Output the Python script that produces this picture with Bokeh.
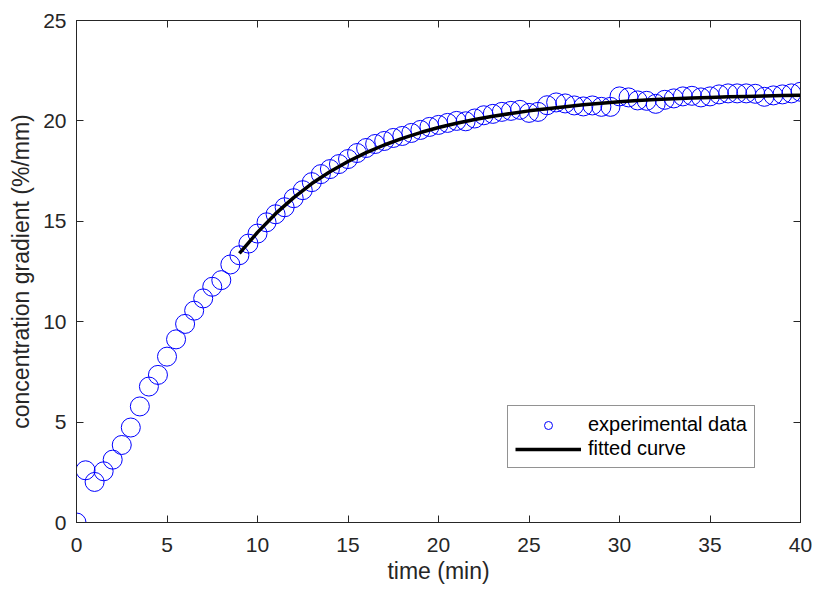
from bokeh.plotting import figure
from bokeh.models import LinearAxis, Range1d, FixedTicker, Legend, LegendItem, CustomJSTickFormatter
from bokeh.embed import file_html
from bokeh.resources import INLINE

# experimental data (time in min, concentration gradient in %/mm)
t_data = [0, 0.5, 1, 1.5, 2, 2.5, 3, 3.5, 4, 4.5, 5, 5.5, 6, 6.5, 7, 7.5, 8, 8.5, 9, 9.5,
          10, 10.5, 11, 11.5, 12, 12.5, 13, 13.5, 14, 14.5, 15, 15.5, 16, 16.5, 17, 17.5,
          18, 18.5, 19, 19.5, 20, 20.5, 21, 21.5, 22, 22.5, 23, 23.5, 24, 24.5, 25, 25.5,
          26, 26.5, 27, 27.5, 28, 28.5, 29, 29.5, 30, 30.5, 31, 31.5, 32, 32.5, 33, 33.5,
          34, 34.5, 35, 35.5, 36, 36.5, 37, 37.5, 38, 38.5, 39, 39.5, 40]
y_data = [0.0, 2.6, 2.02, 2.55, 3.13, 3.86, 4.73, 5.78, 6.77, 7.35, 8.26, 9.12, 9.89, 10.55,
          11.16, 11.74, 12.07, 12.85, 13.31, 13.89, 14.39, 14.95, 15.35, 15.7, 16.15, 16.55,
          16.95, 17.35, 17.6, 17.85, 18.1, 18.4, 18.65, 18.85, 19.0, 19.15, 19.25, 19.4,
          19.55, 19.7, 19.8, 19.9, 20.0, 19.98, 20.12, 20.28, 20.35, 20.45, 20.5, 20.55,
          20.4, 20.45, 20.78, 20.92, 20.87, 20.77, 20.72, 20.77, 20.7, 20.7, 21.22, 21.17,
          21.02, 21.0, 20.85, 21.05, 21.12, 21.22, 21.25, 21.17, 21.22, 21.32, 21.37, 21.37,
          21.37, 21.35, 21.2, 21.27, 21.32, 21.37, 21.45]

# fitted curve
t_fit = [9, 10, 11, 12, 13, 14, 15, 16, 17, 18, 19, 20, 21, 22, 23, 24, 25, 26, 27, 28,
         29, 30, 31, 32, 33, 34, 35, 36, 37, 38, 39, 40]
y_fit = [13.4, 14.45, 15.38, 16.18, 16.88, 17.47, 17.98, 18.42, 18.8, 19.13, 19.42, 19.67,
         19.88, 20.07, 20.23, 20.37, 20.5, 20.61, 20.71, 20.8, 20.88, 20.95, 21.01, 21.06,
         21.1, 21.14, 21.17, 21.2, 21.22, 21.24, 21.26, 21.28]

x_ticks = [0, 5, 10, 15, 20, 25, 30, 35, 40]
y_ticks = [0, 5, 10, 15, 20, 25]

FONT = "Liberation Sans"
AXC = "#262626"

p = figure(width=812, height=590, output_backend="svg", toolbar_location=None,
           x_range=Range1d(0, 40), y_range=Range1d(0, 25),
           min_border_left=76, min_border_right=12, min_border_top=20, min_border_bottom=68)
p.grid.visible = False
p.outline_line_color = AXC
p.background_fill_color = "white"
p.border_fill_color = "white"

sc = p.scatter(t_data, y_data, marker="circle", size=19, fill_color=None,
               line_color="#0000ff", line_width=1)
ln = p.line(t_fit, y_fit, line_color="black", line_width=3.5)

def style(ax, ticks, show_labels=True):
    ax.ticker = FixedTicker(ticks=ticks)
    ax.minor_tick_line_color = None
    ax.major_tick_in = 7
    ax.major_tick_out = 0
    ax.axis_line_color = AXC
    ax.major_tick_line_color = AXC
    ax.major_label_text_font = FONT
    ax.major_label_text_color = AXC
    ax.axis_label_text_font = FONT
    ax.axis_label_text_color = AXC
    ax.axis_label_text_font_style = "normal"
    ax.major_label_text_font_size = "21px"
    ax.axis_label_text_font_size = "23px"
    if not show_labels:
        ax.formatter = CustomJSTickFormatter(code="return '';")
        ax.major_label_standoff = 0

style(p.xaxis[0], x_ticks)
style(p.yaxis[0], y_ticks)
p.xaxis[0].axis_label = "time (min)"
p.yaxis[0].axis_label = "concentration gradient (%/mm)"
p.xaxis[0].major_label_standoff = 15
p.xaxis[0].axis_label_standoff = 3
p.yaxis[0].major_label_standoff = 10
p.yaxis[0].axis_label_standoff = 6

top = LinearAxis()
style(top, x_ticks, False)
p.add_layout(top, "above")
right = LinearAxis()
style(right, y_ticks, False)
p.add_layout(right, "right")

legend = Legend(items=[LegendItem(label="experimental data", renderers=[sc]),
                       LegendItem(label="fitted curve", renderers=[ln])],
                location=(431, 54))
legend.label_text_font = FONT
legend.label_text_font_size = "20px"
legend.label_text_color = "black"
legend.glyph_width = 66
legend.glyph_height = 20
legend.label_height = 20
legend.spacing = 1
legend.padding = 7
legend.margin = 0
legend.label_standoff = 7
legend.border_line_color = AXC
legend.border_line_width = 1
legend.background_fill_alpha = 1.0
p.add_layout(legend, "center")

open("out.html", "w").write(file_html(p, INLINE))
